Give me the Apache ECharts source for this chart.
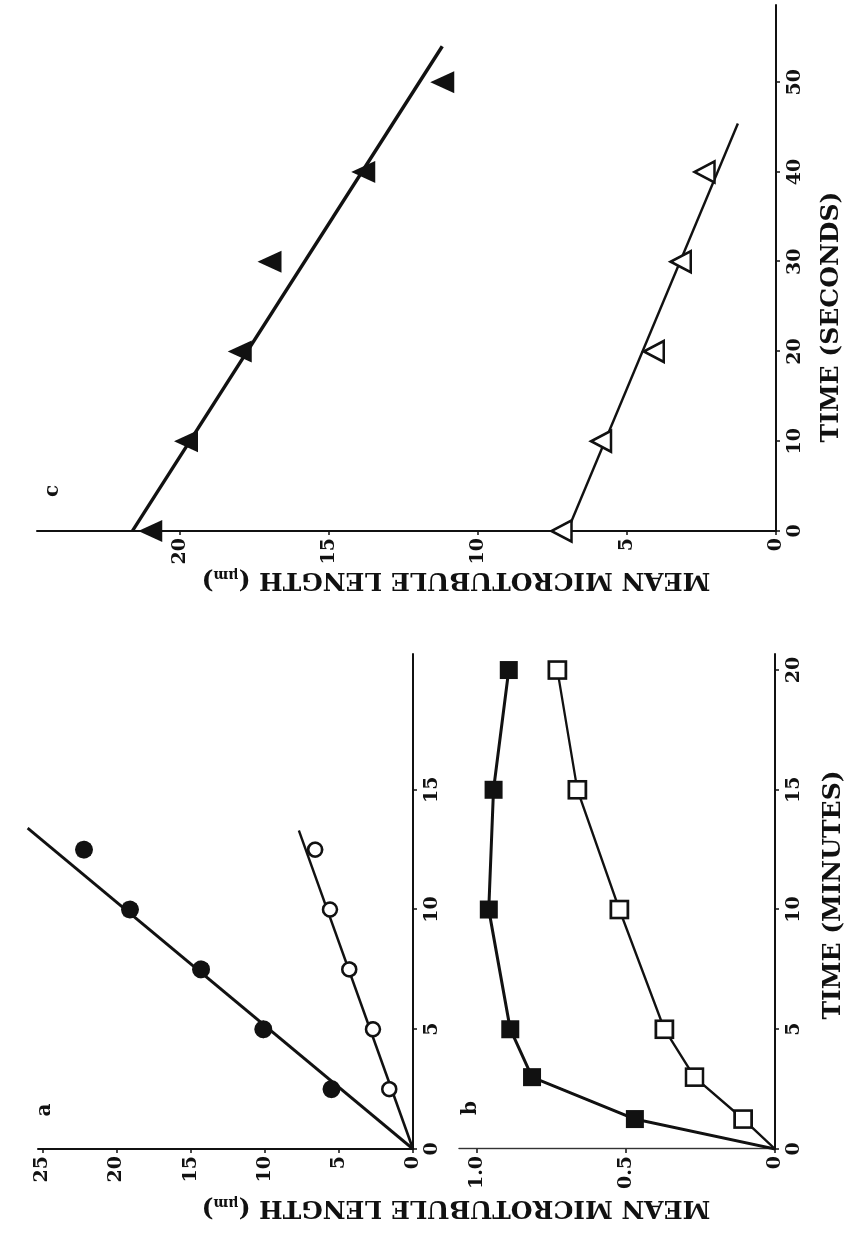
<!DOCTYPE html>
<html>
<head>
<meta charset="utf-8">
<script src="https://cdn.jsdelivr.net/npm/echarts@6/dist/echarts.min.js"></script>
<style>
  html, body { margin: 0; padding: 0; background: #fff; overflow: hidden; width: 857px; height: 1235px; }
  /* the figure is laid out landscape and turned a quarter turn, as printed */
  #chart { position: absolute; left: 0; top: 0; width: 1235px; height: 857px;
           transform-origin: 0 0; transform: translate(0, 1235px) rotate(-90deg); }
</style>
</head>
<body>
<div id="chart"></div>
<script>
// ---- panel a: mean microtubule length (µm) vs time (minutes) ----
const timeA = [2.5, 5, 7.5, 10, 12.5];
const lengthAFilled = [5.5, 10.1, 14.3, 19.1, 22.2];
const lengthAOpen = [1.6, 2.7, 4.3, 5.6, 6.6];
const fitAFilled = [[0, 0], [13.4, 26.0]];
const fitAOpen = [[0, 0], [13.3, 7.7]];

// ---- panel b: mean microtubule length (µm) vs time (minutes) ----
const timeB = [1.25, 3, 5, 10, 15, 20];
const lengthBFilled = [0.47, 0.815, 0.888, 0.96, 0.944, 0.893];
const lengthBOpen = [0.107, 0.27, 0.371, 0.522, 0.663, 0.73];

// ---- panel c: mean microtubule length (µm) vs time (seconds) ----
const timeCFilled = [0, 10, 20, 30, 40, 50];
const lengthCFilled = [21.0, 19.8, 18.0, 17.0, 13.85, 11.2];
const timeCOpen = [0, 10, 20, 30, 40];
const lengthCOpen = [7.2, 5.87, 4.1, 3.2, 2.4];
const fitCFilled = [[0, 21.6], [54, 11.2]];
const fitCOpen = [[0, 7.0], [45.4, 1.28]];

// ---- tick labels ----
const ticksMinutesA = [0, 5, 10, 15];
const ticksMinutesB = [0, 5, 10, 15, 20];
const ticksSeconds = [0, 10, 20, 30, 40, 50];
const ticksLengthA = [0, 5, 10, 15, 20, 25];
const ticksLengthB = [0, 0.5, 1.0];
const ticksLengthC = [0, 5, 10, 15, 20];

const FONT = '"DejaVu Serif", "Liberation Serif", serif';
const INK = '#111';

const zip = (xs, ys) => xs.map((x, i) => [x, ys[i]]);

function axis(kind, gridIndex, max, ticks) {
  return {
    type: 'value', gridIndex: gridIndex, min: 0, max: max,
    position: kind === 'x' ? 'bottom' : 'left',
    axisLine: { show: true, onZero: false, lineStyle: { color: INK, width: 2 } },
    axisTick: { show: true, customValues: ticks, length: 4, lineStyle: { color: INK, width: 1.5 } },
    axisLabel: {
      customValues: ticks, margin: kind === 'x' ? 10 : 7,
      fontFamily: FONT, fontWeight: 'bold', fontSize: 19, color: INK
    },
    splitLine: { show: false }
  };
}

const xAxes = [
  axis('x', 0, 20.67, ticksMinutesA),
  axis('x', 1, 20.67, ticksMinutesB),
  axis('x', 2, 58.6, ticksSeconds)
];
const yAxes = [
  axis('y', 0, 25.3, ticksLengthA),
  axis('y', 1, 1.06, ticksLengthB),
  axis('y', 2, 24.8, ticksLengthC)
];
yAxes[1].axisLabel.formatter = v => (v === 0 ? '0' : v.toFixed(1));
yAxes[1].axisLine.lineStyle = { color: '#333', width: 1.4 };

function fitLine(ax, data, width) {
  return { type: 'line', xAxisIndex: ax, yAxisIndex: ax, data: data, symbol: 'none',
           clip: false, z: 2, lineStyle: { color: INK, width: width }, silent: true };
}
function pathLine(ax, data, width) {
  return { type: 'line', xAxisIndex: ax, yAxisIndex: ax, data: [[0, 0]].concat(data), symbol: 'none',
           z: 2, lineStyle: { color: INK, width: width }, silent: true };
}
function marks(ax, data, symbol, size, filled) {
  return { type: 'scatter', xAxisIndex: ax, yAxisIndex: ax, data: data, symbol: symbol,
           symbolSize: size, z: 3, silent: true,
           itemStyle: filled ? { color: INK, opacity: 1 }
                             : { color: '#fff', borderColor: INK, borderWidth: 2.6, opacity: 1 } };
}

const titleFont = 'bold 25px ' + FONT;
function titleText(x, y, rotation, text, rich) {
  return {
    type: 'text', x: x, y: y, rotation: rotation, silent: true,
    style: {
      text: text, font: titleFont, fill: INK,
      align: 'center', verticalAlign: 'middle',
      textAlign: 'center', textVerticalAlign: 'middle',
      rich: rich
    }
  };
}
const lengthRich = {
  t: { fontFamily: FONT, fontWeight: 'bold', fontSize: 25, color: INK },
  u: { fontFamily: FONT, fontWeight: 'bold', fontSize: 14, color: INK, verticalAlign: 'bottom' }
};
const lengthTitle = '{t|MEAN MICROTUBULE LENGTH (}{u|μm}{t|)}';
function panelLetter(x, y, s) {
  return { type: 'text', x: x, y: y, silent: true,
           style: { text: s, font: 'bold 20px ' + FONT, fill: INK,
                    align: 'center', verticalAlign: 'middle',
                    textAlign: 'center', textVerticalAlign: 'middle' } };
}

const chart = echarts.init(document.getElementById('chart'), null, { renderer: 'canvas', width: 1235, height: 857 });
chart.setOption({
  animation: false,
  backgroundColor: '#fff',
  grid: [
    { left: 86, top: 38, width: 495, height: 375 },
    { left: 86, top: 459, width: 495, height: 316 },
    { left: 704, top: 37, width: 526, height: 739 }
  ],
  xAxis: xAxes,
  yAxis: yAxes,
  series: [
    fitLine(0, fitAFilled, 3),
    fitLine(0, fitAOpen, 2.6),
    marks(0, zip(timeA, lengthAFilled), 'circle', 18, true),
    marks(0, zip(timeA, lengthAOpen), 'circle', 14, false),

    pathLine(1, zip(timeB, lengthBFilled), 3),
    pathLine(1, zip(timeB, lengthBOpen), 2.4),
    marks(1, zip(timeB, lengthBFilled), 'rect', 18, true),
    marks(1, zip(timeB, lengthBOpen), 'rect', 17, false),

    fitLine(2, fitCFilled, 3.5),
    fitLine(2, fitCOpen, 2.5),
    marks(2, zip(timeCFilled, lengthCFilled), 'triangle', [22, 24], true),
    marks(2, zip(timeCOpen, lengthCOpen), 'triangle', [21, 20], false)
  ],
  graphic: [
    titleText(27, 456, Math.PI / 2, lengthTitle, lengthRich),
    titleText(655, 456, Math.PI / 2, lengthTitle, lengthRich),
    titleText(340, 833, 0, 'TIME (MINUTES)'),
    titleText(918, 831, 0, 'TIME (SECONDS)'),
    panelLetter(125, 45, 'a'),
    panelLetter(127, 471, 'b'),
    panelLetter(744, 53, 'c')
  ]
});
</script>
</body>
</html>
